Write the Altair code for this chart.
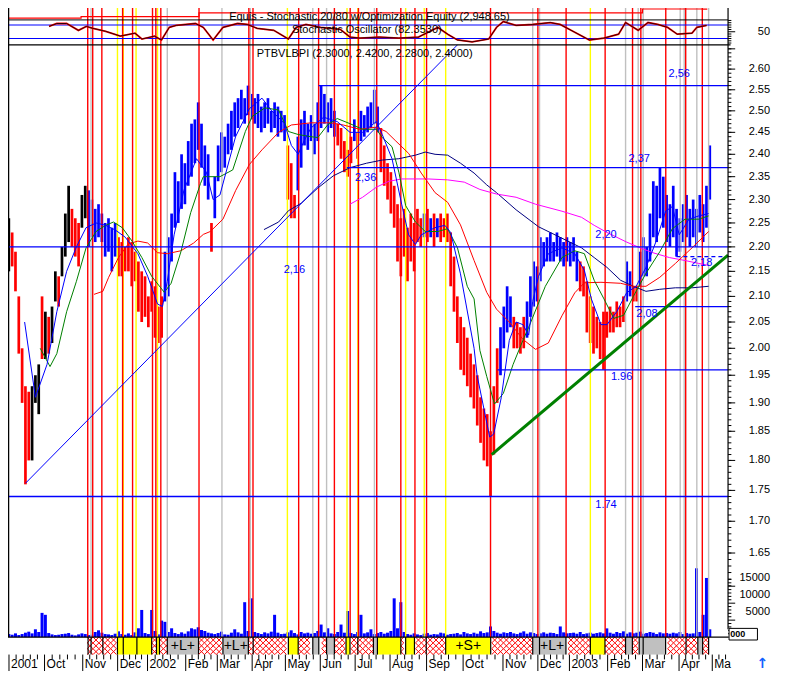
import altair as alt
import numpy as np
import pandas as pd

W, H = 767, 664
SY = H / 685.0
DMAX = 785 / 1.7          # trading-day index at the right edge of the window


def py(v):
    return round(v * SY, 2)


# ---------------- price bars (one bar every 2 trading days) ----------------
bar_high = [2.26, 2.23, 2.19, 2.10, 2.00, 1.93, 1.92, 1.93, 1.95, 1.97,
            2.10, 2.07, 2.06, 2.08, 2.15, 2.14, 2.20, 2.27, 2.33, 2.28,
            2.26, 2.25, 2.31, 2.33, 2.32, 2.30, 2.28, 2.29, 2.27, 2.25,
            2.26, 2.24, 2.25, 2.22, 2.21, 2.20, 2.22, 2.21, 2.19, 2.17,
            2.15, 2.14, 2.10, 2.13, 2.12, 2.08, 2.10, 2.19, 2.22, 2.27,
            2.36, 2.34, 2.40, 2.38, 2.43, 2.47, 2.48, 2.52, 2.47, 2.42,
            2.40, 2.25, 2.35, 2.42, 2.45, 2.44, 2.47, 2.50, 2.52, 2.53,
            2.55, 2.53, 2.56, 2.54, 2.53, 2.54, 2.51, 2.52, 2.53, 2.50,
            2.52, 2.51, 2.50, 2.49, 2.42, 2.38, 2.31, 2.44, 2.48, 2.50,
            2.47, 2.49, 2.47, 2.52, 2.56, 2.54, 2.52, 2.53, 2.50, 2.47,
            2.46, 2.43, 2.41, 2.44, 2.48, 2.45, 2.50, 2.49, 2.51, 2.52,
            2.55, 2.51, 2.46, 2.42, 2.38, 2.36, 2.33, 2.29, 2.26, 2.28,
            2.24, 2.27, 2.25, 2.28, 2.26, 2.27, 2.28, 2.26, 2.27, 2.26,
            2.27, 2.26, 2.27, 2.23, 2.18, 2.10, 2.06, 2.04, 2.02, 1.99,
            1.97, 1.95, 1.91, 1.89, 1.88, 1.85, 1.93, 2.00, 2.04, 2.08,
            2.12, 2.10, 2.06, 2.05, 2.04, 2.06, 2.09, 2.14, 2.17, 2.16,
            2.22, 2.21, 2.22, 2.23, 2.21, 2.23, 2.22, 2.21, 2.22, 2.21,
            2.22, 2.19, 2.17, 2.16, 2.13, 2.10, 2.08, 2.06, 2.05, 2.07,
            2.07, 2.08, 2.07, 2.09, 2.08, 2.10, 2.17, 2.15, 2.12, 2.12,
            2.19, 2.22, 2.20, 2.27, 2.34, 2.33, 2.37, 2.35, 2.31, 2.29,
            2.33, 2.28, 2.26, 2.29, 2.31, 2.28, 2.30, 2.28, 2.31, 2.29,
            2.33, 2.42]
bar_low = [2.15, 2.16, 2.11, 1.99, 1.90, 1.76, 1.80, 1.80, 1.90, 1.88,
           1.98, 1.98, 1.99, 2.01, 2.09, 2.08, 2.14, 2.18, 2.21, 2.20,
           2.18, 2.16, 2.24, 2.26, 2.20, 2.22, 2.21, 2.22, 2.21, 2.18,
           2.19, 2.15, 2.18, 2.14, 2.14, 2.15, 2.15, 2.12, 2.13, 2.07,
           2.05, 2.06, 2.04, 2.07, 2.02, 2.01, 2.02, 2.09, 2.10, 2.17,
           2.24, 2.25, 2.28, 2.29, 2.33, 2.35, 2.38, 2.41, 2.37, 2.33,
           2.30, 2.19, 2.26, 2.34, 2.36, 2.37, 2.40, 2.41, 2.44, 2.46,
           2.48, 2.47, 2.49, 2.48, 2.47, 2.46, 2.45, 2.46, 2.47, 2.45,
           2.46, 2.44, 2.45, 2.43, 2.30, 2.26, 2.26, 2.32, 2.37, 2.42,
           2.41, 2.43, 2.40, 2.43, 2.46, 2.47, 2.45, 2.46, 2.44, 2.42,
           2.39, 2.36, 2.35, 2.38, 2.43, 2.39, 2.43, 2.44, 2.45, 2.46,
           2.47, 2.45, 2.36, 2.33, 2.30, 2.27, 2.24, 2.17, 2.14, 2.18,
           2.13, 2.17, 2.15, 2.21, 2.20, 2.22, 2.21, 2.22, 2.20, 2.22,
           2.21, 2.22, 2.21, 2.12, 2.07, 2.01, 1.96, 1.95, 1.93, 1.91,
           1.89, 1.86, 1.83, 1.80, 1.79, 1.74, 1.81, 1.90, 1.95, 2.00,
           2.03, 2.04, 2.00, 2.00, 1.99, 2.00, 2.02, 2.06, 2.08, 2.09,
           2.13, 2.16, 2.17, 2.17, 2.17, 2.18, 2.17, 2.16, 2.17, 2.16,
           2.17, 2.13, 2.11, 2.10, 2.03, 2.01, 1.99, 2.00, 1.98, 1.96,
           2.02, 2.03, 2.03, 2.04, 2.04, 2.05, 2.09, 2.10, 2.09, 2.09,
           2.12, 2.14, 2.14, 2.17, 2.22, 2.21, 2.26, 2.24, 2.21, 2.20,
           2.22, 2.18, 2.19, 2.21, 2.22, 2.20, 2.22, 2.20, 2.23, 2.21,
           2.24, 2.30]
bar_color = ("KRRRRRRKKKRKRKKRKKKRRRKK" "BBBBBBBBB" "RRRRRRRRRRRRRR" "BBBBBBBBBBBBBB" "R"
             "BBBBBBBBBBBBBBBBBBBBBB" "RRR" "BBBBBBBBBBBB" "RRRRR" "BR" "BBBBBB"
             "RRRRRRRRRRRRR" "BRBRB" "RRRRRRRRRRRRRRRRRR" "BBBB" "RRRR"
             "BBBBBBBBBBBBBBBB" "RRRRRRRRRRRRRR" "BBRR" "BBBBBBBBBBBBBBBBBBBBBB")
volume = [900, 700, 1100, 600, 900, 1300, 1600, 1100, 2300, 1500,
          7140, 6570, 1200, 800, 600, 700, 900, 1000, 1200, 700,
          500, 800, 1100, 900, 600, 700, 1500, 2000, 1300, 900,
          800, 600, 1000, 1700, 900, 700, 1100, 600, 1400, 2600,
          8000, 1200, 900, 8000, 1800, 800, 4860, 4500, 1500, 2600,
          1200, 900, 1400, 1000, 1700, 2600, 2300, 2900, 2100, 1800,
          1300, 1100, 900, 1200, 1600, 800, 700, 1300, 2300, 1400,
          1000, 10290, 1800, 11430, 1500, 1200, 900, 1400, 1100, 1600,
          6570, 1300, 900, 1000, 1400, 2000, 1200, 800, 1500, 1100,
          1300, 1000, 1200, 1800, 3700, 1400, 2600, 1100, 900, 1500,
          3700, 1300, 7700, 1200, 900, 1500, 6570, 1100, 1400, 2300,
          900, 1200, 1500, 1000, 1300, 1800, 11430, 2600, 10290, 1500,
          900, 700, 1100, 800, 600, 1000, 1200, 700, 900, 800,
          1300, 1100, 700, 900, 1000, 1200, 800, 1500, 1100, 900,
          1300, 1000, 1700, 1200, 1400, 3140, 1800, 1300, 1000, 1400,
          1200, 1500, 1100, 900, 1300, 1700, 1000, 1400, 1200, 900,
          1100, 1400, 1000, 1300, 1200, 900, 3140, 1400, 1100, 1200,
          1300, 1000, 1500, 900, 1100, 1300, 1000, 1200, 1400, 1100,
          2570, 1300, 1000, 1500, 1200, 1700, 1000, 1400, 1100, 1300,
          1600, 1000, 1200, 1500, 1300, 900, 1400, 1100, 1200, 1000,
          1300, 1100, 1500, 900, 1200, 1000, 1100, 20280, 1500, 6570,
          17430, 2300]

# ---------------- moving averages (day index, price) ----------------
fast_d = [10, 16.5, 23.5, 29.4, 35.3, 41.2, 47, 53, 58.8, 64.7, 70.6, 78.2, 84.1, 90, 93, 95.9, 100, 105.9,
          113.5, 119.4, 123.5, 127.6, 137, 145.3, 152.9, 158.8, 166.5, 170.6, 174.7, 178.2, 182.4, 190, 198.2,
          205.9, 213.5, 221.8, 225.3, 231.2, 237, 241.2, 245.3, 248.8, 257, 263, 266.5, 272.4, 280.6, 282.4, 290,
          292.4, 297, 301.8, 305.9, 310, 313.5, 315.9, 319.4, 325.3, 333.5, 341.2, 347, 351.2, 357, 360.6, 366.5,
          372.4, 378.2, 384.1, 390, 395.9, 400, 404.1, 410, 415.9, 421.8]
fast_p = [2.05, 1.91, 1.97, 2.07, 2.15, 2.20, 2.24, 2.25, 2.245, 2.235, 2.22, 2.186, 2.14, 2.085, 2.08, 2.13, 2.225,
          2.32, 2.39, 2.36, 2.30, 2.31, 2.44, 2.505, 2.53, 2.50, 2.47, 2.42, 2.40, 2.43, 2.46, 2.485, 2.475, 2.45,
          2.45, 2.475, 2.445, 2.39, 2.29, 2.225, 2.205, 2.225, 2.24, 2.245, 2.23, 2.145, 2.00, 1.95, 1.84, 1.845,
          1.91, 2.015, 2.05, 2.045, 2.025, 2.09, 2.14, 2.186, 2.198, 2.186, 2.152, 2.095, 2.045, 2.045, 2.07,
          2.107, 2.12, 2.158, 2.21, 2.275, 2.285, 2.225, 2.258, 2.265, 2.27]
mid_d = [19.4, 25.3, 29.4, 35.3, 41.2, 47, 53, 58.8, 63.5, 68.8, 74.7, 80.6, 86.5, 94.1, 98.2, 104.1, 110, 115.9,
         117.6, 127.6, 135.3, 142.9, 147, 154.7, 162.9, 168.8, 174.7, 182.4, 186.5, 192.4, 198.2, 205.9, 213.5,
         221.8, 225.3, 231.2, 235.3, 239.4, 245.3, 251.2, 258.8, 264.7, 270.6, 276.5, 280.6, 284.1, 288.2, 292.9,
         298.2, 304.1, 310, 313.5, 323.5, 333.5, 341.2, 347, 352.9, 358.8, 364.7, 370.6, 376.5, 384.1, 392.4, 400,
         407.6, 415.9, 421.8]
mid_p = [2.00, 1.966, 1.99, 2.07, 2.13, 2.198, 2.232, 2.245, 2.252, 2.24, 2.212, 2.178, 2.14, 2.108, 2.126, 2.19,
         2.272, 2.335, 2.35, 2.35, 2.365, 2.452, 2.487, 2.507, 2.502, 2.452, 2.445, 2.44, 2.438, 2.467, 2.482, 2.47,
         2.457, 2.457, 2.438, 2.417, 2.36, 2.287, 2.252, 2.232, 2.232, 2.238, 2.198, 2.12, 2.095, 1.996, 1.948,
         1.898, 1.917, 1.97, 2.015, 2.04, 2.12, 2.178, 2.192, 2.186, 2.132, 2.095, 2.057, 2.063, 2.10, 2.146, 2.19,
         2.238, 2.258, 2.258, 2.265]
slow_d = [51.8, 57.1, 60.6, 66.5, 72.4, 78.2, 84.1, 90, 95.9, 104.1, 111.8, 117.6, 121.8, 129.4, 137.1, 145.3,
          152.9, 162.9, 170.6, 182.4, 194.1, 201.8, 211.8, 221.8, 227.6, 233.5, 241.2, 248.8, 257.1, 264.7, 272.4,
          280.6, 288.2, 294.1, 301.8, 310, 317.6, 325.3, 333.5, 341.2, 347, 357, 368.8, 376.5, 384.1, 392.4, 401.8,
          411.8, 421.8]
slow_p = [2.104, 2.11, 2.138, 2.178, 2.206, 2.212, 2.208, 2.188, 2.186, 2.192, 2.208, 2.226, 2.232, 2.258, 2.32,
          2.377, 2.41, 2.45, 2.467, 2.472, 2.472, 2.467, 2.457, 2.462, 2.452, 2.43, 2.402, 2.358, 2.315, 2.294,
          2.246, 2.172, 2.108, 2.075, 2.05, 2.017, 1.998, 2.01, 2.062, 2.107, 2.127, 2.128, 2.126, 2.12, 2.12,
          2.138, 2.166, 2.198, 2.232]
navy_d = [154.1, 162.9, 168.8, 176.5, 186.5, 195.9, 205.9, 215.9, 225.3, 235.3, 245.3, 251.2, 257.1, 264.7, 272.4,
          280.6, 288.2, 294.1, 305.9, 319.4, 333.5, 345.3, 352.9, 360.6, 368.8, 376.5, 384.1, 392.4, 401.8, 411.8,
          421.8]
navy_p = [2.236, 2.252, 2.276, 2.292, 2.325, 2.352, 2.37, 2.38, 2.387, 2.39, 2.398, 2.405, 2.40, 2.398, 2.38,
          2.358, 2.332, 2.315, 2.278, 2.242, 2.218, 2.198, 2.178, 2.158, 2.132, 2.12, 2.11, 2.114, 2.117, 2.117,
          2.12]
mag_d = [205.9, 213.5, 221.8, 229.4, 237.1, 245.3, 252.9, 264.7, 274.7, 284.1, 294.1, 305.9, 317.6, 333.5, 345.3,
         352.9, 360.6, 372.4, 380.6, 388.2, 398.2, 407.6, 415.9, 421.8]
mag_p = [2.29, 2.305, 2.327, 2.34, 2.345, 2.345, 2.345, 2.343, 2.338, 2.322, 2.312, 2.305, 2.29, 2.275, 2.262,
         2.245, 2.23, 2.21, 2.198, 2.188, 2.178, 2.172, 2.166, 2.162]

# ---------------- stochastic + equity ----------------
st_d = [24.7, 29.4, 35.3, 42.4, 47.1, 51.2, 58.8, 67.6, 76.5, 80.6, 88.2, 92.4, 97.1, 101.2, 112.9, 117.6, 123.5,
        129.4, 138.2, 144.1, 150, 160, 168.8, 173.5, 179.4, 188.2, 200, 205.9, 211.8, 223.5, 235.3, 247.1, 258.8,
        264.7, 270.6, 279.4, 289.4, 294.1, 298.2, 305.9, 315.9, 326.5, 332.4, 341.2, 350, 358.8, 367.6, 371.8,
        379.4, 385.3, 391.2, 397.1, 402.9, 411.8, 414.7, 420.6]
st_v = [73.6, 86.5, 86.5, 56, 73.6, 65, 52, 30.7, 43.6, 17.8, 30.7, 13.5, 69.3, 77.9, 86.5, 69.3, 13.5, 69.3, 86.5,
        82.2, 65, 56.4, 17.8, 69.3, 82.2, 69.3, 60.7, 26.4, 22.1, 26.4, 22.1, 26.4, 69.3, 39.3, 13.5, 5, 17.8, 69.3,
        95, 77.9, 82.2, 90.8, 82.2, 47.9, 13.5, 22.1, 39.3, 90.8, 56.4, 90.8, 82.2, 69.3, 39.3, 43.6, 69.3, 77.9]
eq_d = [0, 44, 115, 382, 418, 421]
eq_v = [1000, 1330, 2150, 2990, 2950, 2950]

# ---------------- signal lines (day index) ----------------
red_sig = [48, 51, 56.5, 69, 75, 87, 89, 92, 115, 145, 147.5, 175, 187, 196.5, 206, 211, 222, 236.5, 245, 252,
           290.5, 319, 336, 359.5, 376, 381, 396, 408, 418]
yellow_sig = [65.9, 69.4, 77.1, 90, 168.2, 204.1, 210.6, 239.4, 250.6, 263.5, 350.6]
grey_sig = [50, 95.9, 128.8, 145.9, 183.5, 191.8, 220.6, 315.9, 320, 371.8, 379.4, 382.4, 404.7, 407.1, 414.7,
            421.8]

# ---------------- levels, trendlines, labels ----------------
lvl_p = [2.20, 1.74, 2.56, 2.37, 2.08, 1.96]
lvl_from = [0.3, 0.3, 187, 204, 377.6, 294.7]
dash_p, dash_from = 2.18, 402.4
RIGHT = 433.5
lvl_text = ["2,56", "2,37", "2,36", "2,20", "2,16", "2,18", "2,08", "1.96", "1.74"]
lvl_text_d = [404.1, 380, 215.3, 360, 172.4, 417.6, 384.7, 369.4, 360]
lvl_text_p = [2.588, 2.389, 2.348, 2.225, 2.153, 2.167, 2.065, 1.946, 1.726]
trend_blue_d, trend_blue_p = [10.6, 270.6], [1.762, 2.66]
trend_green_d, trend_green_p = [291.2, 433.5], [1.81, 2.183]

# ---------------- signal strip ----------------
strip_start = [48.2, 50, 57.1, 65.9, 69.4, 77.6, 86.5, 89.4, 91.2, 95.9, 114.7, 129.4, 144.7, 147.6, 168.8, 174.7,
               183.5, 187.1, 191.8, 196.5, 203.5, 205.9, 210.6, 220, 222.4, 236.5, 239.4, 244.7, 251.8, 263.5,
               290.6, 315.9, 320, 335.9, 350.6, 359.4, 371.8, 375.9, 380, 382.4, 395.9, 408.2, 415.3, 418.2]
strip_kind = "HHHYYYHYHG" "HGHHYHGHGH" "YHHGYHYHHY" "HGGHYHGHGG" "HHGH"
strip_last = 421.8
strip_labels = ["+L+", "+L+", "+S+", "+L+"]
strip_label_d = [105.3, 137.1, 277.1, 327.6]

months = ["2001", "Oct", "Nov", "Dec", "2002", "Feb", "Mar", "Apr", "May", "Jun", "Jul", "Aug", "Sep", "Oct",
          "Nov", "Dec", "2003", "Feb", "Mar", "Apr", "Ma"]
month_d = [0.6, 22, 45, 66, 84, 107, 126, 147, 167, 188, 209, 230, 252, 274, 298, 319, 338, 361, 382, 404, 424]

title_eq = "Equis - Stochastic 20/80 w/Optimization Equity (2,948.65)"
title_st = "Stochastic Oscillator (82.3530)"
title_px = "PTBVLBPI (2.3000, 2.4200, 2.2800, 2.4000)"

# ======================= chart =======================
FONT = "Liberation Sans"
xs = alt.Scale(domain=[0, DMAX], range=[0, W], nice=False, zero=False)
ps = alt.Scale(type="log", domain=[1.5, 2.7], range=[py(666.9), py(21.6)], nice=False)
ss = alt.Scale(domain=[0, 100], range=[py(36.15), py(12.85)], nice=False, zero=False)
es = alt.Scale(domain=[1000, 3000], range=[py(10.4), py(1.0)], nice=False, zero=False)
vs = alt.Scale(domain=[0, 30000], range=[py(649), py(544)], nice=False, zero=False)


def X(f="d"):
    return alt.X(f"{f}:Q", scale=xs, axis=None)


def X2(f="d2"):
    return alt.X2(f"{f}:Q")


def YP(f="p"):
    return alt.Y(f"{f}:Q", scale=ps, axis=None)


layers = []


def hline(yref, d0, d1, color="#000000", width=1.0):
    df = pd.DataFrame({"d": [d0], "d2": [d1]})
    return alt.Chart(df).mark_rule(color=color, strokeWidth=width).encode(
        x=X(), x2=X2(), y=alt.value(py(yref)))


def vline(d, y0, y1, color="#000000", width=1.0):
    df = pd.DataFrame({"d": [d]})
    return alt.Chart(df).mark_rule(color=color, strokeWidth=width).encode(
        x=X(), y=alt.value(py(y0)), y2=alt.value(py(y1)))


bars = pd.DataFrame({"d": [2 * i + 0.5 for i in range(len(bar_high))], "hi": bar_high, "lo": bar_low,
                     "c": list(bar_color), "vol": volume})

# volume
layers.append(alt.Chart(bars).mark_rule(strokeWidth=3, color="#0000ff").encode(
    x=X(), y=alt.Y("vol:Q", scale=vs, axis=None), y2=alt.value(py(649))))

# price bars
layers.append(alt.Chart(bars).mark_rule(strokeWidth=2.7).encode(
    x=X(), y=YP("hi"), y2=alt.Y2("lo:Q"),
    color=alt.Color("c:N", scale=alt.Scale(domain=["K", "R", "B"], range=["#000000", "#ff0000", "#0000ff"]),
                    legend=None)))

# signal lines
sig = pd.DataFrame({"d": grey_sig + yellow_sig + red_sig,
                    "k": ["G"] * len(grey_sig) + ["Y"] * len(yellow_sig) + ["R"] * len(red_sig)})
layers.append(alt.Chart(sig).mark_rule(strokeWidth=1.4).encode(
    x=X(), y=alt.value(py(0)), y2=alt.value(py(649)),
    color=alt.Color("k:N", scale=alt.Scale(domain=["G", "Y", "R"], range=["#c0c0c0", "#ffff00", "#ff0000"]),
                    legend=None)))


def maline(ds, ps_, color, width=1.0):
    df = pd.DataFrame({"d": ds, "p": ps_})
    return alt.Chart(df).mark_line(color=color, strokeWidth=width).encode(x=X(), y=YP(), order="d:Q")


layers.append(maline(navy_d, navy_p, "#000080"))
layers.append(maline(mag_d, mag_p, "#ff00ff"))
layers.append(maline(slow_d, slow_p, "#ff0000"))
layers.append(maline(mid_d, mid_p, "#008000"))
layers.append(maline(fast_d, fast_p, "#0000ff"))

# levels
lv = pd.DataFrame({"p": lvl_p, "d": lvl_from, "d2": [RIGHT] * len(lvl_p)})
layers.append(alt.Chart(lv).mark_rule(color="#0000ff", strokeWidth=1.3).encode(x=X(), x2=X2(), y=YP()))
lvd = pd.DataFrame({"p": [dash_p], "d": [dash_from], "d2": [RIGHT]})
layers.append(alt.Chart(lvd).mark_rule(color="#0000ff", strokeWidth=1.3, strokeDash=[4, 3]).encode(
    x=X(), x2=X2(), y=YP()))

# trendlines
layers.append(maline(trend_blue_d, trend_blue_p, "#0000ff", 1.0))
layers.append(maline(trend_green_d, trend_green_p, "#008000", 3.0))

# level labels
lt = pd.DataFrame({"d": lvl_text_d, "p": lvl_text_p, "t": lvl_text})
layers.append(alt.Chart(lt).mark_text(font=FONT, fontSize=11, color="#0000ff", align="center",
                                      baseline="middle").encode(x=X(), y=YP(), text="t:N"))

# ---------------- top panel ----------------
eq = pd.DataFrame({"d": eq_d, "v": eq_v})
layers.append(alt.Chart(eq).mark_line(color="#ff0000", strokeWidth=1.2, interpolate="step-after").encode(
    x=X(), y=alt.Y("v:Q", scale=es, axis=None), order="d:Q"))
layers.append(hline(12.3, 0, RIGHT, "#000000", 1))
sb = pd.DataFrame({"s": [80, 20], "d": [0, 0], "d2": [RIGHT, RIGHT]})
layers.append(alt.Chart(sb).mark_rule(color="#0000ff", strokeWidth=1.2).encode(
    x=X(), x2=X2(), y=alt.Y("s:Q", scale=ss, axis=None)))
st = pd.DataFrame({"d": st_d, "s": st_v})
layers.append(alt.Chart(st).mark_line(color="#ff0000", strokeWidth=1.8).encode(
    x=X(), y=alt.Y("s:Q", scale=ss, axis=None), order="d:Q"))
layers.append(alt.Chart(st).mark_line(color="#000000", strokeWidth=0.8).encode(
    x=X(), y=alt.Y("s:Q", scale=ss, axis=None), order="d:Q"))
layers.append(hline(38, 0, RIGHT + 1.5, "#000000", 1.2))

tt = pd.DataFrame({"d": [217.6, 216.0, 214.7], "y": [py(9.5), py(22.5), py(47)],
                   "t": [title_eq, title_st, title_px]})
for i in range(3):
    layers.append(alt.Chart(tt.iloc[[i]]).mark_text(font=FONT, fontSize=11, color="#000000", align="center",
                                                    baseline="middle").encode(
        x=X(), y=alt.value(float(tt["y"].iloc[i])), text="t:N"))

# ---------------- frame / right axis ----------------
layers.append(vline(0.3, 0, 649, "#000000", 1.5))
layers.append(vline(RIGHT, 0, 641, "#000000", 1.2))

pmin = [round(v, 2) for v in np.arange(1.60, 2.655, 0.01)]
pmaj = [round(v, 2) for v in np.arange(1.65, 2.651, 0.05)]
tk = pd.DataFrame({"p": pmin, "d": RIGHT, "d2": 435.5})
layers.append(alt.Chart(tk).mark_rule(color="#000000", strokeWidth=1).encode(x=X(), x2=X2(), y=YP()))
tkm = pd.DataFrame({"p": pmaj, "d": RIGHT, "d2": 437.8})
layers.append(alt.Chart(tkm).mark_rule(color="#000000", strokeWidth=1).encode(x=X(), x2=X2(), y=YP()))
plab = pd.DataFrame({"p": pmaj[:-1], "t": [f"{v:.2f}" for v in pmaj[:-1]], "d": 458.8})
layers.append(alt.Chart(plab).mark_text(font=FONT, fontSize=11, align="right", baseline="middle",
                                        color="#000000").encode(x=X(), y=YP(), text="t:N"))

stk = pd.DataFrame({"s": list(range(0, 101, 10)), "d": RIGHT,
                    "d2": [437.8 if v == 50 else 435.5 for v in range(0, 101, 10)]})
layers.append(alt.Chart(stk).mark_rule(color="#000000", strokeWidth=1).encode(
    x=X(), x2=X2(), y=alt.Y("s:Q", scale=ss, axis=None)))
layers.append(alt.Chart(pd.DataFrame({"s": [50], "d": [458.8], "t": ["50"]})).mark_text(
    font=FONT, fontSize=11, align="right", baseline="middle").encode(
    x=X(), y=alt.Y("s:Q", scale=ss, axis=None), text="t:N"))

vtk = pd.DataFrame({"v": list(range(0, 17001, 1000)), "d": RIGHT,
                    "d2": [437.8 if v % 5000 == 0 else 435.5 for v in range(0, 17001, 1000)]})
layers.append(alt.Chart(vtk).mark_rule(color="#000000", strokeWidth=1).encode(
    x=X(), x2=X2(), y=alt.Y("v:Q", scale=vs, axis=None)))
layers.append(alt.Chart(pd.DataFrame({"v": [5000, 10000, 15000], "d": 458.8, "t": ["5000", "10000", "15000"]}))
              .mark_text(font=FONT, fontSize=11, align="right", baseline="middle", dy=-8).encode(
    x=X(), y=alt.Y("v:Q", scale=vs, axis=None), text="t:N"))

# ---------------- signal strip ----------------
strip_end = strip_start[1:] + [strip_last]
STEP = 3.53
hx = []
for a, b, k in zip(strip_start, strip_end, strip_kind):
    if k == "H":
        c = np.ceil(a / STEP) * STEP
        while c <= b + 1e-6:
            hx.append(round(float(c), 2))
            c += STEP
hdf = pd.DataFrame({"d": hx})
for row in (652, 658, 664):
    layers.append(alt.Chart(hdf).mark_point(shape="M-1,-1L1,1M-1,1L1,-1", size=33, filled=False,
                                            stroke="#ff0000", strokeWidth=1, opacity=1).encode(
        x=X(), y=alt.value(py(row))))

blk = pd.DataFrame({"d": strip_start, "d2": strip_end, "k": list(strip_kind)})
blk = blk[blk["k"] != "H"]
layers.append(alt.Chart(blk).mark_rect().encode(
    x=X(), x2=X2(), y=alt.value(py(649)), y2=alt.value(py(667)),
    color=alt.Color("k:N", scale=alt.Scale(domain=["Y", "G"], range=["#ffff00", "#c0c0c0"]), legend=None)))
sep = pd.DataFrame({"d": strip_start + [strip_last]})
layers.append(alt.Chart(sep).mark_rule(color="#000000", strokeWidth=1.2).encode(
    x=X(), y=alt.value(py(649)), y2=alt.value(py(667))))
layers.append(hline(649, 0, RIGHT, "#000000", 1.2))
layers.append(alt.Chart(pd.DataFrame({"d": strip_label_d, "t": strip_labels})).mark_text(
    font=FONT, fontSize=14, align="center", baseline="middle", color="#000000").encode(
    x=X(), y=alt.value(py(658.5)), text="t:N"))

# ---------------- x axis ----------------
minor = []
for a, b in zip(month_d[:-1], month_d[1:]):
    for k in range(1, 5):
        minor.append(a + (b - a) * k / 5)
minor += [month_d[-1] + (month_d[-1] - month_d[-2]) / 5 * k for k in (1, 2)]
layers.append(alt.Chart(pd.DataFrame({"d": minor})).mark_rule(color="#000000", strokeWidth=1).encode(
    x=X(), y=alt.value(py(667)), y2=alt.value(py(672))))
layers.append(alt.Chart(pd.DataFrame({"d": month_d})).mark_rule(color="#000000", strokeWidth=1).encode(
    x=X(), y=alt.value(py(667)), y2=alt.value(py(684))))
layers.append(alt.Chart(pd.DataFrame({"d": month_d, "t": months})).mark_text(
    font=FONT, fontSize=12, align="left", baseline="middle", dx=2, color="#000000").encode(
    x=X(), y=alt.value(py(677)), text="t:N"))

# bottom-right widgets
layers.append(alt.Chart(pd.DataFrame({"d": [434.1], "d2": [451.2]})).mark_rect(
    fill="#ffffff", stroke="#000000", strokeWidth=1).encode(
    x=X(), x2=X2(), y=alt.value(py(640)), y2=alt.value(py(652))))
layers.append(alt.Chart(pd.DataFrame({"d": [434.8], "t": ["000"]})).mark_text(
    font=FONT, fontSize=9, fontWeight="bold", align="left", baseline="middle").encode(
    x=X(), y=alt.value(py(646)), text="t:N"))
layers.append(alt.Chart(pd.DataFrame({"d": [454.1], "t": ["\u2191"]})).mark_text(
    font="DejaVu Sans", fontSize=14, fontWeight="bold", color="#1060ff", align="center",
    baseline="middle").encode(x=X(), y=alt.value(py(677)), text="t:N"))

chart = (alt.layer(*layers)
         .resolve_scale(y="independent", color="independent")
         .properties(width=W, height=H, padding=0, autosize=alt.AutoSizeParams(type="none"))
         .configure_view(stroke=None))

chart.save("out.html", embed_options={"renderer": "svg", "actions": False})
